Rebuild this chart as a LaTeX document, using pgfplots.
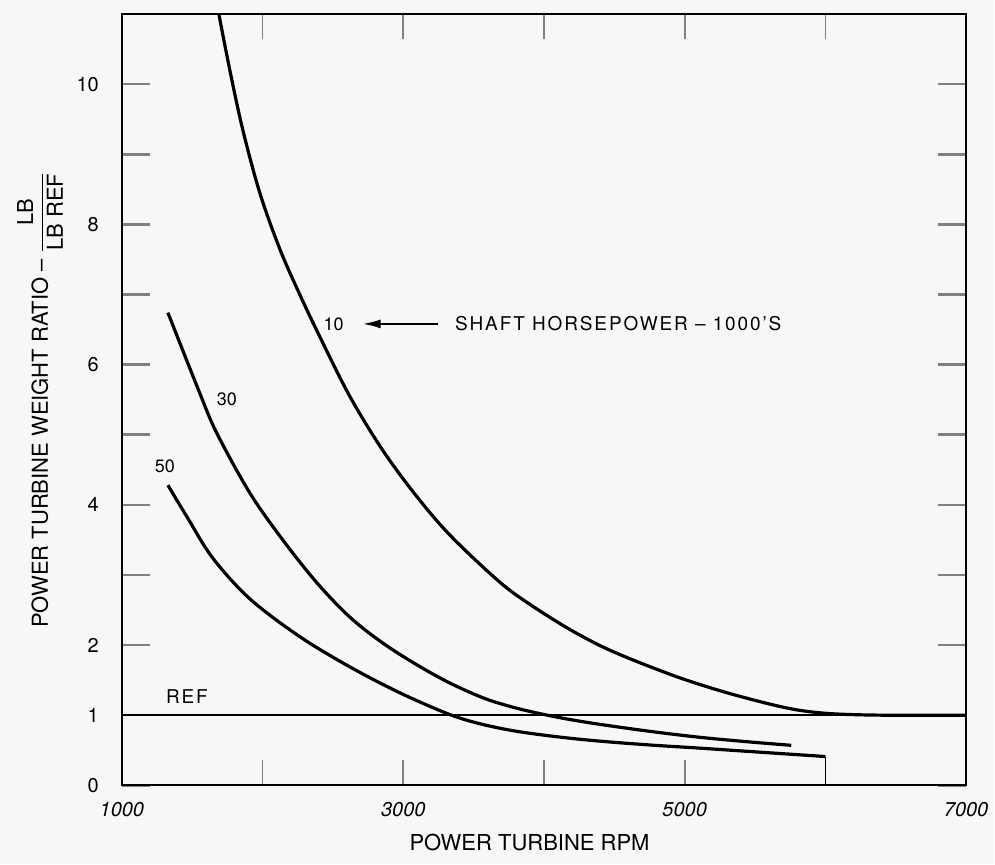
\documentclass[border=0pt]{standalone}
\usepackage{fontspec}
\setmainfont{TeX Gyre Heros}
\newfontfamily\spaced[LetterSpace=10]{TeX Gyre Heros}
\usepackage{pgfplots}
\pgfplotsset{compat=1.18}
\usetikzlibrary{arrows.meta}
\begin{document}
\begin{tikzpicture}
\fill[black!3] (-61pt,-39.5pt) rectangle (436.5pt,393pt);
\begin{axis}[
  at={(0pt,0pt)}, anchor=south west,
  scale only axis, width=422.5pt, height=386pt,
  xmin=1000, xmax=7000, ymin=0, ymax=11,
  axis line style={line width=1.1pt},
  tick align=inside,
  xtick={1000,2000,3000,4000,5000,6000,7000},
  xticklabels={1000,,3000,,5000,,7000},
  ytick={0,1,2,3,4,5,6,7,8,9,10},
  yticklabels={0,1,2,,4,,6,,8,,10},
  xtick style={line width=0.9pt, /pgfplots/major tick length=12.5pt},
  ytick style={line width=1.3pt, /pgfplots/major tick length=14pt},
  /pgf/number format/assume math mode=true,
  xticklabel style={font=\fontsize{10}{10}\selectfont\itshape, yshift=-5pt},
  yticklabel style={font=\fontsize{10}{10}\selectfont, xshift=-8pt},
  clip=true,
]
% 10 (thousand shaft horsepower)
\addplot[black, line width=1.6pt, smooth, tension=0.55] coordinates {
 (1689,11.0) (1767,10.2) (1859,9.35) (1980,8.45) (2122,7.65) (2264,7.0)
 (2406,6.4) (2619,5.55) (2853,4.78) (3095,4.12) (3340,3.55) (3684,2.90)
 (3900,2.58) (4160,2.25) (4400,1.99) (4629,1.79) (4913,1.57) (5104,1.44)
 (5317,1.31) (5600,1.16) (5814,1.07) (6050,1.02) (6400,1.0) (7000,1.0)};
% 30
\addplot[black, line width=1.6pt, smooth, tension=0.55] coordinates {
 (1327,6.74) (1554,5.59) (1675,5.02) (1909,4.17) (2143,3.50) (2385,2.89)
 (2619,2.40) (2853,2.03) (3095,1.72) (3329,1.46) (3563,1.25) (3740,1.135)
 (3918,1.045) (4150,0.95) (4394,0.87) (4750,0.77) (5104,0.685) (5450,0.62)
 (5757,0.57)};
% 50
\addplot[black, line width=1.6pt, smooth, tension=0.55] coordinates {
 (1327,4.28) (1462,3.83) (1646,3.24) (1909,2.66) (2264,2.12) (2619,1.69)
 (2974,1.32) (3329,1.01) (3560,0.87) (3805,0.77) (4100,0.69) (4394,0.63)
 (4750,0.575) (5104,0.53) (5550,0.47) (6000,0.41)};
% REF line
\addplot[black, line width=1.0pt] coordinates {(1000,1) (7000,1)};
\addplot[black, line width=0.9pt] coordinates {(6000,0) (6000,0.41)};
\node[font=\fontsize{9}{9}\selectfont] at (axis cs:2505,6.58) {10};
\node[font=\fontsize{9}{9}\selectfont] at (axis cs:1746,5.50) {30};
\node[font=\fontsize{9}{9}\selectfont] at (axis cs:1305,4.55) {50};
\node[font=\fontsize{9.5}{9.5}\selectfont\spaced] at (axis cs:1462,1.27) {REF};
\draw[-{Latex[length=9pt,width=4.5pt]}, line width=1pt] (axis cs:3244,6.58) -- (axis cs:2711,6.58);
\node[font=\fontsize{9.5}{9.5}\selectfont\spaced, anchor=west, inner sep=0pt] at (axis cs:3365,6.58) {SHAFT HORSEPOWER – 1000’S};
\end{axis}
\node[font=\fontsize{11}{11}\selectfont] at (204pt,-28.5pt) {POWER TURBINE RPM};
\node[rotate=90, anchor=base, font=\fontsize{11}{11}\selectfont] at (-37pt,193pt)
  {POWER TURBINE WEIGHT RATIO – $\displaystyle\frac{\mbox{LB}}{\mbox{LB REF}}$};
\end{tikzpicture}
\end{document}
